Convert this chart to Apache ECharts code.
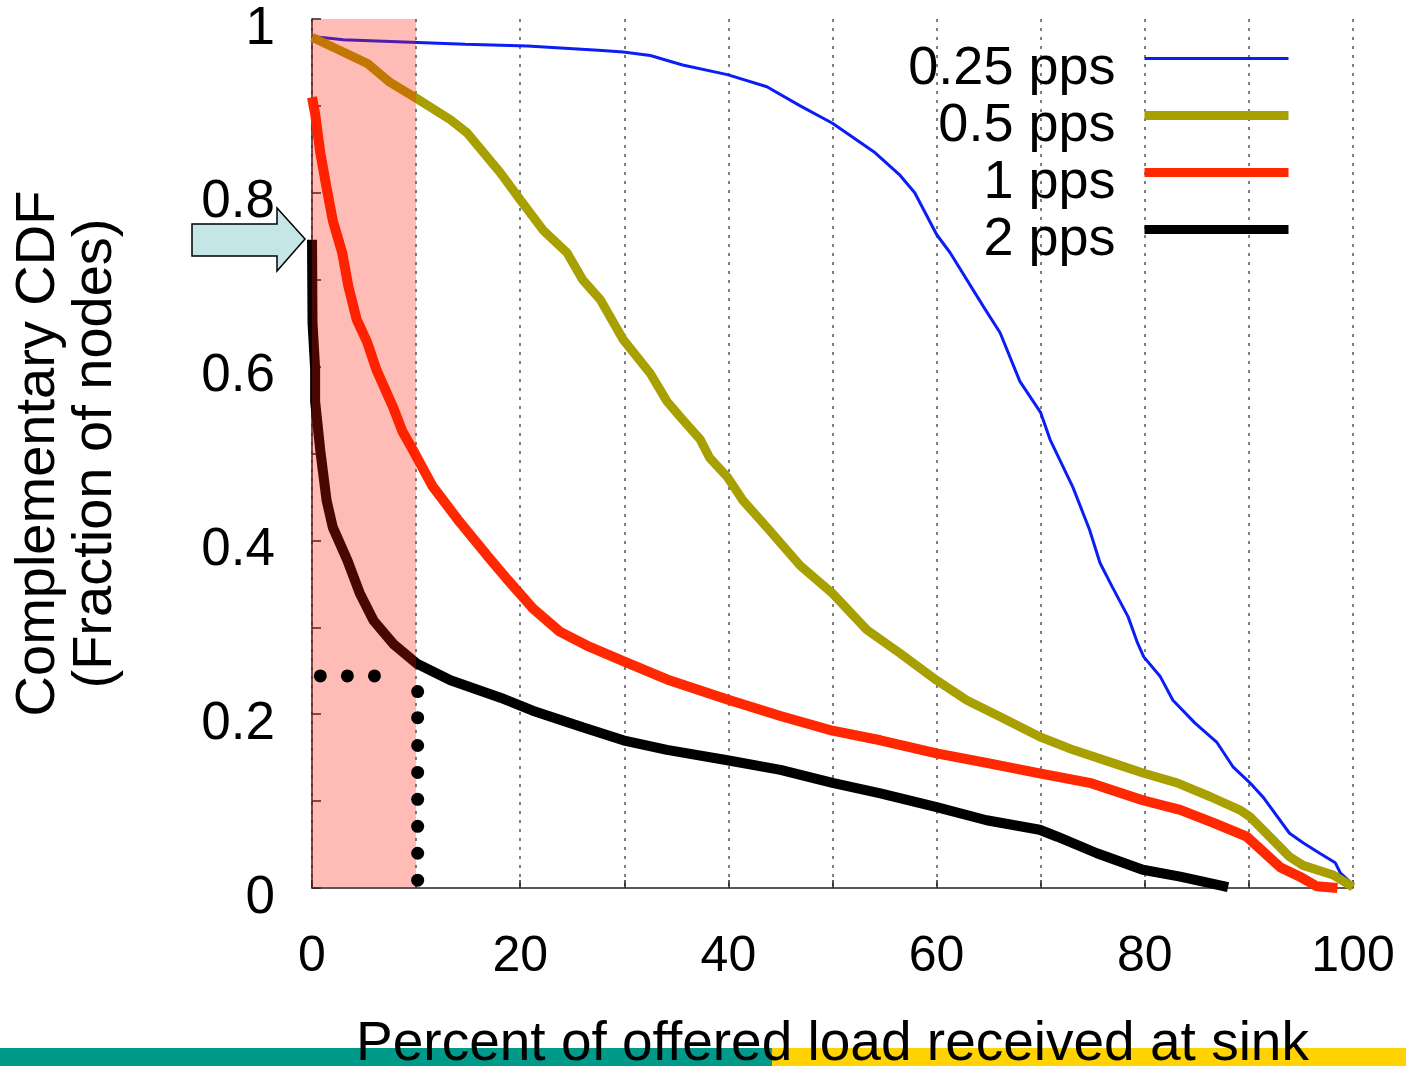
<!DOCTYPE html>
<html>
<head>
<meta charset="utf-8">
<script src="https://cdn.jsdelivr.net/npm/echarts@6/dist/echarts.min.js"></script>
<style>
  html, body { margin: 0; padding: 0; background: #fff; }
  #chart { width: 1406px; height: 1066px; }
</style>
</head>
<body>
<div id="chart"></div>
<script>
// series names
var names = ['0.25 pps', '0.5 pps', '1 pps', '2 pps'];

// [percent of offered load, fraction of nodes]
var pps025 = [
  [0, 0.980], [3.0, 0.976], [14.7, 0.971], [20.7, 0.969], [27.5, 0.964], [29.9, 0.962],
  [32.5, 0.958], [35.6, 0.947], [39.9, 0.936], [43.7, 0.922], [46.9, 0.900], [50.0, 0.880],
  [54.1, 0.846], [56.5, 0.820], [57.9, 0.800], [60.0, 0.752], [61.3, 0.731], [64.5, 0.669],
  [66.1, 0.639], [68.0, 0.583], [70.0, 0.547], [70.9, 0.516], [73.1, 0.461], [74.7, 0.412],
  [75.7, 0.374], [76.9, 0.346], [78.4, 0.312], [79.3, 0.282], [79.9, 0.266], [81.5, 0.243],
  [82.7, 0.216], [84.8, 0.190], [86.9, 0.168], [88.5, 0.139], [90.1, 0.121], [91.4, 0.104],
  [93.9, 0.063], [95.2, 0.052], [96.8, 0.040], [98.3, 0.029], [98.8, 0.017], [100, 0.004]
];
var pps05 = [
  [0, 0.979], [3.0, 0.962], [5.3, 0.949], [7.5, 0.927], [10.0, 0.909], [13.3, 0.884],
  [14.9, 0.869], [18.1, 0.823], [20.0, 0.792], [22.2, 0.757], [24.5, 0.731], [26.0, 0.700],
  [27.7, 0.677], [29.9, 0.631], [32.5, 0.592], [34.1, 0.560], [35.6, 0.539], [37.3, 0.516],
  [38.2, 0.495], [39.9, 0.473], [41.4, 0.446], [43.7, 0.415], [46.9, 0.371], [50.0, 0.339],
  [53.3, 0.297], [56.5, 0.270], [60.0, 0.239], [62.9, 0.216], [66.1, 0.197], [69.9, 0.174],
  [73.1, 0.159], [76.9, 0.144], [79.9, 0.132], [83.1, 0.121], [86.3, 0.105], [89.1, 0.090],
  [90.1, 0.082], [92.0, 0.059], [93.9, 0.036], [95.2, 0.026], [98.1, 0.015], [100, 0.001]
];
var pps1 = [
  [0, 0.910], [0.3, 0.891], [0.8, 0.846], [1.4, 0.806], [2.0, 0.768], [2.9, 0.731],
  [3.5, 0.692], [4.3, 0.654], [5.3, 0.628], [6.2, 0.596], [7.8, 0.553], [8.7, 0.525],
  [9.7, 0.504], [11.6, 0.462], [14.2, 0.421], [16.8, 0.383], [18.7, 0.356], [21.2, 0.322],
  [23.8, 0.295], [26.4, 0.279], [29.9, 0.261], [34.1, 0.240], [39.9, 0.217], [45.0, 0.198],
  [50.0, 0.181], [54.6, 0.170], [60.0, 0.155], [64.8, 0.144], [69.9, 0.132], [74.7, 0.121],
  [79.8, 0.101], [83.4, 0.090], [86.6, 0.075], [89.8, 0.059], [93.0, 0.024], [94.9, 0.013],
  [96.5, 0.002], [98.5, 0.000]
];
var pps2 = [
  [0, 0.746], [0.05, 0.650], [0.3, 0.598], [0.3, 0.560], [0.8, 0.503], [1.4, 0.446],
  [2.0, 0.415], [3.4, 0.377], [4.6, 0.339], [5.9, 0.308], [7.8, 0.281], [10.1, 0.258],
  [13.3, 0.239], [18.1, 0.219], [21.2, 0.204], [26.0, 0.185], [29.9, 0.170], [34.1, 0.159],
  [39.9, 0.147], [45.0, 0.136], [50.0, 0.121], [54.6, 0.109], [60.0, 0.093], [64.8, 0.078],
  [69.9, 0.067], [71.6, 0.059], [75.4, 0.040], [79.8, 0.021], [83.4, 0.013], [88.0, 0.001]
];

// dotted guide marks
var guideDots = [
  [0.8, 0.244], [3.4, 0.244], [6.0, 0.244],
  [10.15, 0.226], [10.15, 0.196], [10.15, 0.164], [10.15, 0.133],
  [10.15, 0.102], [10.15, 0.071], [10.15, 0.040], [10.15, 0.009]
];
// shaded region (x from, x to)
var shadeX = [0, 10];

var font = 'Liberation Sans';
var colors = ['#0a1ef5', '#a8a000', '#ff2800', '#000000'];
var widths = [3, 9, 10, 10];

var chart = echarts.init(document.getElementById('chart'));

var lineSeries = [pps025, pps05, pps1, pps2].map(function (d, i) {
  return {
    name: names[i],
    type: 'line',
    data: d,
    symbol: 'none',
    z: 3 + i,
    color: colors[i],
    lineStyle: { color: colors[i], width: widths[i] },
    animation: false
  };
});

var option = {
  animation: false,
  backgroundColor: '#fff',
  grid: { left: 312, right: 53, top: 19, bottom: 178, containLabel: false, outerBoundsMode: 'none' },
  legend: {
    orient: 'vertical',
    align: 'right',
    right: 113,
    top: 42,
    padding: 0,
    itemWidth: 144,
    itemHeight: 20,
    itemGap: 3,
    itemStyle: { opacity: 0 },
    formatter: function (n) { return '{s| }{t|' + n + '}'; },
    textStyle: {
      color: '#000',
      rich: {
        s: { fontSize: 1, lineHeight: 75, width: 0 },
        t: { fontFamily: font, fontSize: 54, lineHeight: 57, color: '#000', verticalAlign: 'bottom', padding: [0, 24, 0, 0] }
      }
    },
    data: names.map(function (n, i) {
      return { name: n, lineStyle: { width: i === 0 ? 3 : 9 } };
    })
  },
  xAxis: {
    type: 'value',
    min: 0, max: 100, interval: 10,
    name: 'Percent of offered load received at sink',
    nameLocation: 'middle',
    nameGap: 129,
    nameTextStyle: { fontFamily: font, fontSize: 55, color: '#000' },
    axisLine: { show: true, lineStyle: { color: '#222', width: 1.5 } },
    axisTick: { show: true, inside: true, length: 8, lineStyle: { color: '#222', width: 1.5 } },
    axisLabel: {
      fontFamily: font, fontSize: 50, color: '#000', margin: 44,
      formatter: function (v) { return Math.round(v) % 20 === 0 ? String(Math.round(v)) : ''; }
    },
    splitLine: { show: true, lineStyle: { color: '#555', width: 1.5, type: [3, 6] } }
  },
  yAxis: {
    type: 'value',
    min: 0, max: 1, interval: 0.1,
    name: 'Complementary CDF\n(Fraction of nodes)',
    nameLocation: 'middle',
    nameGap: 188,
    nameTextStyle: { fontFamily: font, fontSize: 56, lineHeight: 57, color: '#000' },
    axisLine: { show: true, lineStyle: { color: '#222', width: 1.5 } },
    axisTick: { show: true, inside: true, length: 9, lineStyle: { color: '#222', width: 1.5 } },
    axisLabel: {
      fontFamily: font, fontSize: 53, color: '#000', margin: 37,
      verticalAlign: 'top', lineHeight: 20,
      formatter: function (v) {
        var t = Math.round(v * 10);
        if (t % 2 !== 0) return '';
        return t === 0 ? '0' : (t === 10 ? '1' : (t / 10).toFixed(1));
      }
    },
    splitLine: { show: false }
  },
  graphic: [
    {
      type: 'rect', z: -10, silent: true,
      shape: { x: 0, y: 1048, width: 772, height: 18 },
      style: { fill: '#009a8a' }
    },
    {
      type: 'rect', z: -10, silent: true,
      shape: { x: 772, y: 1048, width: 634, height: 18 },
      style: { fill: '#ffd200' }
    },
    {
      type: 'polygon', z: 20, silent: true,
      shape: { points: [[192, 224], [277, 224], [277, 208], [305, 239], [277, 271], [277, 256], [192, 256]] },
      style: { fill: '#c5e6e6', stroke: '#000', lineWidth: 1.5 }
    }
  ],
  series: lineSeries.concat([
    {
      type: 'line',
      data: [],
      z: 10,
      silent: true,
      markArea: {
        silent: true,
        z: 10,
        itemStyle: { color: 'rgba(255,20,0,0.29)' },
        data: [[{ xAxis: shadeX[0], yAxis: 0 }, { xAxis: shadeX[1], yAxis: 1 }]]
      }
    },
    {
      type: 'scatter',
      data: guideDots,
      symbol: 'circle',
      symbolSize: 13,
      z: 12,
      itemStyle: { color: '#000', opacity: 1 }
    }
  ])
};

chart.setOption(option);
</script>
</body>
</html>
